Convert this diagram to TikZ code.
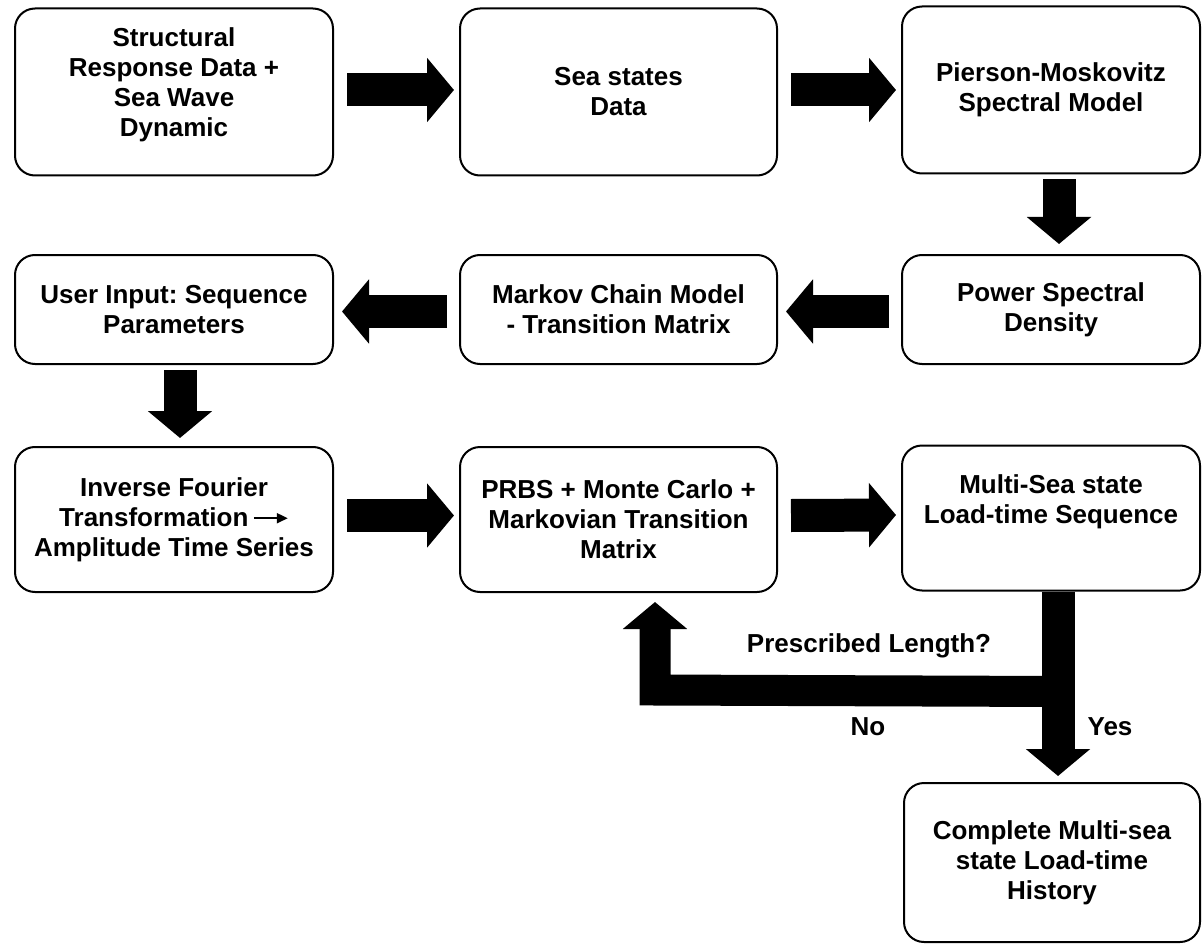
\documentclass[tikz,border=0pt]{standalone}
\usepackage{fontspec}
\setmainfont{Liberation Sans}
\frenchspacing
\usetikzlibrary{arrows.meta}

\begin{document}
\begin{tikzpicture}[x=1pt,y=-1pt,
    caja/.style={draw,line width=2pt,rounded corners=20pt,align=center,
      inner sep=0pt,font=\fontsize{26}{30}\selectfont\bfseries},
    flecha/.style={line width=33pt,-{Triangle[length=27pt,width=63pt]}},
    etiq/.style={font=\fontsize{26}{30}\selectfont\bfseries}]
  \useasboundingbox (0,0) rectangle (1202,944);
  % fila superior
  \node[caja,minimum width=318pt,minimum height=167pt,text depth=20pt] (datos) at (174,92)
    {Structural\\Response Data +\\Sea Wave\\Dynamic};
  \node[caja,minimum width=317pt,minimum height=167pt] (estados) at (618.5,92)
    {Sea states\\Data};
  \node[caja,minimum width=298pt,minimum height=167pt] (pm) at (1051,90)
    {Pierson-Moskovitz\\Spectral Model};
  % fila media
  \node[caja,minimum width=318pt,minimum height=109pt] (usuario) at (174,309.5)
    {User Input: Sequence\\Parameters};
  \node[caja,minimum width=317pt,minimum height=109pt] (markov) at (618.5,309.5)
    {Markov Chain Model\\- Transition Matrix};
  \node[caja,minimum width=298pt,minimum height=109pt] (psd) at (1051,309.5)
    {Power Spectral\\Density};
  % fila inferior
  \node[caja,minimum width=318pt,minimum height=145pt] (fourier) at (174,519.5)
    {Inverse Fourier\\Transformation\,\tikz[baseline]\draw[line width=2pt,
      -{Triangle[length=11pt,width=10pt]}] (0pt,8pt) -- (34pt,8pt);\\Amplitude Time Series};
  \node[caja,minimum width=317pt,minimum height=145pt] (prbs) at (618.5,519.5)
    {PRBS + Monte Carlo +\\Markovian Transition\\Matrix};
  \node[caja,minimum width=298pt,minimum height=145pt,text depth=38pt] (multi) at (1051,518)
    {Multi-Sea state\\Load-time Sequence};
  % resultado
  \node[caja,minimum width=296pt,minimum height=159pt] (completo) at (1052,862.5)
    {Complete Multi-sea\\state Load-time\\History};
  % flechas gruesas
  \draw[flecha] ([shift={(13,-2)}]datos.east) -- ([shift={(-5,-2)}]estados.west);
  \draw[flecha] ([shift={(13,-2)}]estados.east) -- ([shift={(-5,0)}]pm.west);
  \draw[flecha] ([shift={(8,5)}]pm.south) -- ([shift={(8,-10)}]psd.north);
  \draw[flecha] ([shift={(-12,2)}]psd.west) -- ([shift={(8,2)}]markov.east);
  \draw[flecha] ([shift={(-12,2)}]markov.west) -- ([shift={(8,2)}]usuario.east);
  \draw[flecha] ([shift={(6,5)}]usuario.south) -- ([shift={(6,-8)}]fourier.north);
  \draw[flecha] ([shift={(13,-4)}]fourier.east) -- ([shift={(-5,-4)}]prbs.west);
  \draw[flecha] ([shift={(13,-4)}]prbs.east) -- ([shift={(-5,-3)}]multi.west);
  % decision
  \coordinate (bif) at ([shift={(7,100)}]multi.south);
  \coordinate (giro) at (655,690);
  \draw[flecha,line width=31pt,line join=miter,shorten >=9pt]
    (bif) -- (giro) -- (giro |- prbs.south);
  \draw[flecha,shorten >=6pt] ([xshift=7pt]multi.south) -- (bif |- completo.north);
  \node[etiq] (pregunta) at (869,646) {Prescribed Length?};
  \node[etiq] (no) at (868,727) {No};
  \node[etiq] (si) at (1110,727) {Yes};
\end{tikzpicture}
\end{document}
